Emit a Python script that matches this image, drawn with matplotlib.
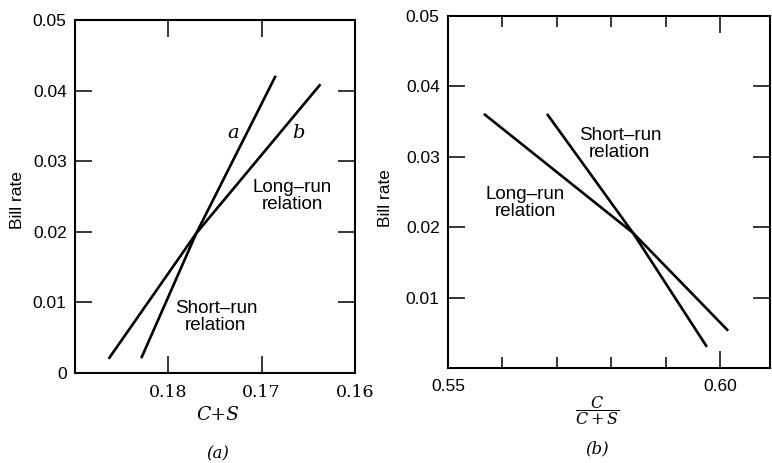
import matplotlib
matplotlib.use("Agg")
import matplotlib.pyplot as plt

plt.rcParams["font.family"] = ["Liberation Sans", "DejaVu Sans"]

# panel (a): bill rate against C+S (axis runs right to left)
a_ticks = [0.18, 0.17, 0.16]
a_ticklabels = ["0.18", "0.17", "0.16"]
rate_ticks = [0.0, 0.01, 0.02, 0.03, 0.04, 0.05]
rate_ticklabels = ["0", "0.01", "0.02", "0.03", "0.04", "0.05"]
# both lines pass through the common point (0.1770, 0.0198)
line_a_x = [0.1829, 0.1770, 0.1685]
line_a_y = [0.0021, 0.0198, 0.0421]
line_b_x = [0.1864, 0.1770, 0.1637]
line_b_y = [0.0020, 0.0198, 0.0409]

# panel (b): bill rate against C/(C+S), crossing at (0.5840, 0.0192)
b_major = [0.55, 0.60]
b_major_labels = ["0.55", "0.60"]
b_minor = [0.56, 0.57, 0.58, 0.59]
b_rate_ticks = [0.01, 0.02, 0.03, 0.04, 0.05]
b_rate_ticklabels = ["0.01", "0.02", "0.03", "0.04", "0.05"]
long_run_x = [0.5566, 0.5840, 0.6015]
long_run_y = [0.0361, 0.0192, 0.0053]
short_run_x = [0.5682, 0.5840, 0.5976]
short_run_y = [0.0361, 0.0192, 0.0030]

W, H = 772, 463
fig = plt.figure(figsize=(W / 100, H / 100), dpi=100)


def fx(x):
    return x / W


def fy(y):
    return 1 - y / H


lw = 1.9
serif_it = dict(family="DejaVu Serif", style="italic")
note = dict(fontsize=13.5, ha="center", va="center", linespacing=1.0)

# ---- (a) ----
ax1 = fig.add_axes([fx(75), fy(373), (355 - 75) / W, (373 - 20) / H])
ax1.plot(line_a_x, line_a_y, color="black", lw=lw, solid_capstyle="butt")
ax1.plot(line_b_x, line_b_y, color="black", lw=lw, solid_capstyle="butt")
ax1.set_xlim(0.19, 0.16)
ax1.set_ylim(0, 0.05)
ax1.set_xticks(a_ticks)
ax1.set_xticklabels(a_ticklabels, family="DejaVu Serif", fontsize=12.5)
ax1.set_yticks(rate_ticks)
ax1.set_yticklabels(rate_ticklabels, fontsize=12.5)
ax1.tick_params(direction="in", length=12, width=1.1, top=True, right=True, pad=6)
ax1.tick_params(axis="x", pad=8)
for s in ax1.spines.values():
    s.set_linewidth(1.5)

ax1.text(0.1731, 0.0340, "a", fontsize=14, ha="center", va="center", **serif_it)
ax1.text(0.1661, 0.0340, "b", fontsize=14, ha="center", va="center", **serif_it)
ax1.text(0.1667, 0.0251, "Long–run\nrelation", **note)
ax1.text(0.1749, 0.0079, "Short–run\nrelation", **note)

fig.text(fx(17), fy(200), "Bill rate", rotation=90, fontsize=12.5, ha="center", va="center")
fig.text(fx(218), fy(415), "C+S", fontsize=13.5, ha="center", va="center", **serif_it)
fig.text(fx(218), fy(454), "(a)", fontsize=12, ha="center", va="center", **serif_it)

# ---- (b) ----
ax2 = fig.add_axes([fx(448), fy(368), (770 - 448) / W, (368 - 16) / H])
ax2.plot(long_run_x, long_run_y, color="black", lw=lw, solid_capstyle="butt")
ax2.plot(short_run_x, short_run_y, color="black", lw=lw, solid_capstyle="butt")
ax2.set_xlim(0.55, 0.6092)
ax2.set_ylim(0, 0.05)
ax2.set_xticks(b_major)
ax2.set_xticklabels(b_major_labels, fontsize=12.5)
ax2.set_xticks(b_minor, minor=True)
ax2.set_yticks(b_rate_ticks)
ax2.set_yticklabels(b_rate_ticklabels, fontsize=12.5)
ax2.tick_params(direction="in", length=12, width=1.1, top=True, right=True, pad=6)
ax2.tick_params(axis="x", which="minor", direction="in", length=8, width=1.1, top=True)
ax2.tick_params(axis="x", pad=8)
for s in ax2.spines.values():
    s.set_linewidth(1.5)

ax2.text(0.5816, 0.0318, "Short–run\nrelation", **note)
ax2.text(0.5642, 0.0234, "Long–run\nrelation", **note)

fig.text(fx(385), fy(198), "Bill rate", rotation=90, fontsize=12.5, ha="center", va="center")
fig.text(fx(597), fy(411), r"$\dfrac{C}{C+S}$", fontsize=11.5, ha="center", va="center",
         math_fontfamily="dejavuserif")
fig.text(fx(597), fy(449), "(b)", fontsize=12, ha="center", va="center", **serif_it)

fig.savefig("out.png", dpi=100)
